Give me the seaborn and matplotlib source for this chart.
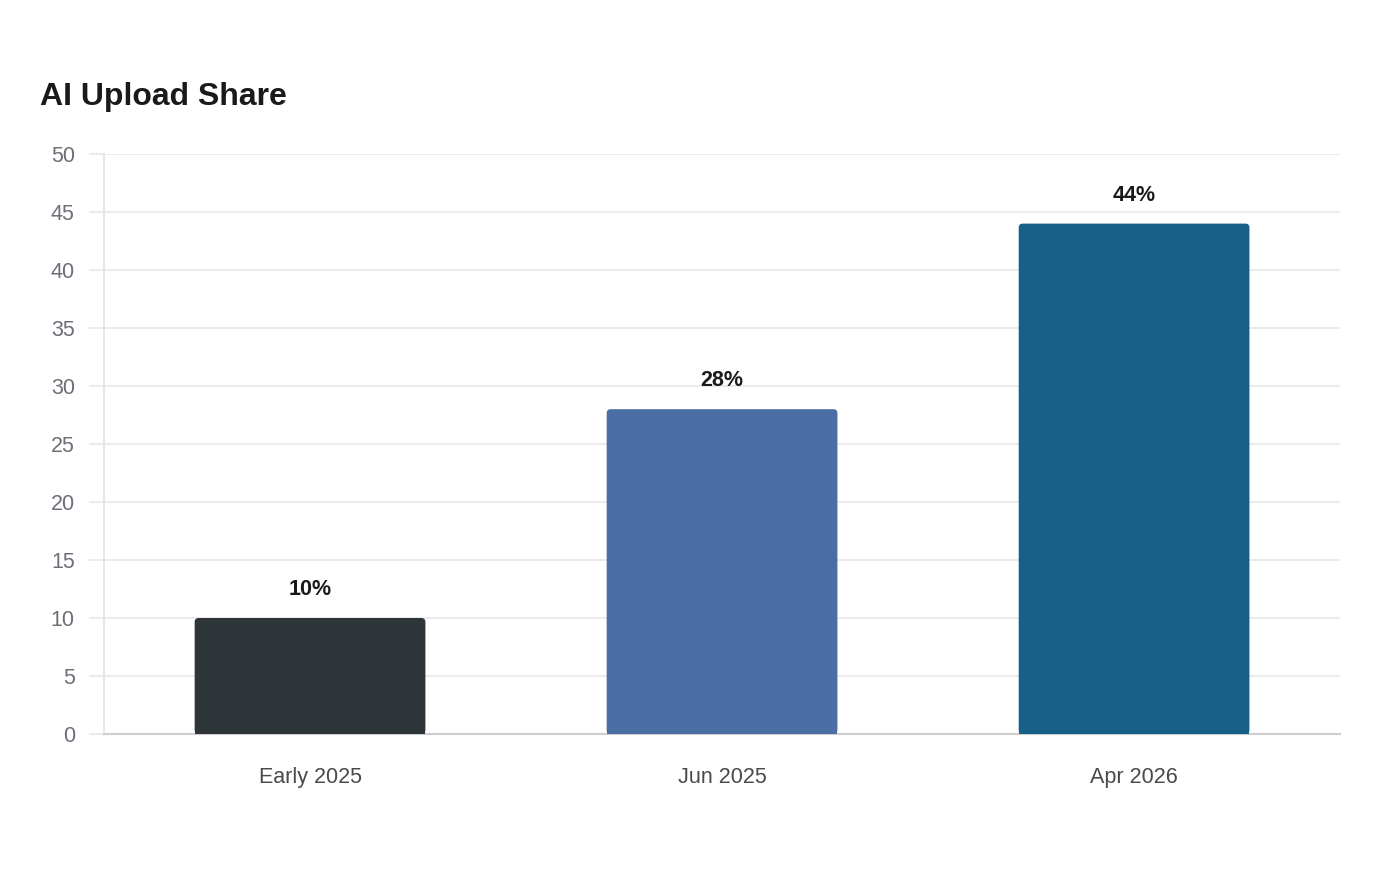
import pandas as pd
import matplotlib.pyplot as plt
import seaborn as sns
from matplotlib.patches import FancyBboxPatch, Rectangle

# ============================================================
# Data
# ============================================================

periods = ["Early 2025", "Jun 2025", "Apr 2026"]
ai_share = [10, 28, 44]
bar_colors = ["#2e3538", "#4a6da3", "#176088"]

df = pd.DataFrame({"Period": periods, "Share": ai_share})

# ============================================================
# Plot
# ============================================================

sns.set_style("white")
plt.rcParams["font.family"] = ["Liberation Sans", "DejaVu Sans"]

fig = plt.figure(figsize=(14, 8.8), dpi=100)
ax = fig.add_axes([0.0743, 0.1659, 0.8829, 0.6591])

sns.barplot(
    data=df,
    x="Period",
    y="Share",
    hue="Period",
    palette=bar_colors,
    saturation=1,
    width=0.56,
    legend=False,
    ax=ax,
)

ax.set_ylim(0, 50)
ax.set_yticks(range(0, 51, 5))
ax.set_xlim(-0.5, 2.5)
ax.grid(axis="y", color="#ebebeb", linewidth=1.5, zorder=0)
ax.set_axisbelow(True)

for side in ["top", "right"]:
    ax.spines[side].set_visible(False)
ax.spines["left"].set_color("#e2e2e2")
ax.spines["left"].set_linewidth(1.2)
ax.spines["bottom"].set_color("#cfcfcf")
ax.spines["bottom"].set_linewidth(1.5)

ax.tick_params(axis="y", left=True, length=11, width=1.5, color="#ebebeb",
               pad=10, labelsize=15.5, labelcolor="#6b7078")
ax.tick_params(axis="x", bottom=False, length=0, pad=23.5, labelsize=15.5,
               labelcolor="#4a4a4a")
ax.set_xlabel("")
ax.set_ylabel("")

# rounded top corners
x_per_px = 3 / (0.8829 * 1400)
y_per_px = 50 / (0.6591 * 880)
for patch in list(ax.patches):
    x, y = patch.get_x(), patch.get_y()
    w, h = patch.get_width(), patch.get_height()
    color = patch.get_facecolor()
    patch.set_visible(False)
    ax.add_patch(FancyBboxPatch(
        (x, y), w, h,
        boxstyle=f"round,pad=0,rounding_size={4 * x_per_px}",
        mutation_aspect=y_per_px / x_per_px,
        facecolor=color, edgecolor="none", zorder=3,
    ))
    ax.add_patch(Rectangle((x, y), w, h / 2, facecolor=color,
                           edgecolor="none", zorder=3))
    ax.annotate(f"{h:.0f}%", (x + w / 2, h), xytext=(0, 20.5),
                textcoords="offset points", ha="center", va="center",
                fontsize=15.5, fontweight="bold", color="#1a1a1a")

fig.text(40 / 1400, 1 - 97 / 880, "AI Upload Share", fontsize=23,
         fontweight="bold", color="#1a1a1a", ha="left", va="center")

plt.savefig("out.png", dpi=100)
